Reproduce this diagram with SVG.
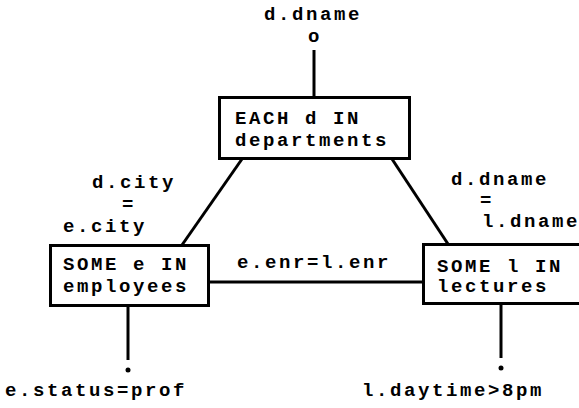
<svg xmlns="http://www.w3.org/2000/svg" width="579" height="408" viewBox="0 0 579 408">
<style>
text{font-family:"Liberation Mono","DejaVu Sans Mono",monospace;font-weight:bold;font-size:19px;letter-spacing:2.6px;fill:#000}
.box{fill:#fff;stroke:#000;stroke-width:3}
.edge{stroke:#000;stroke-width:3;fill:none}
</style>
<rect width="579" height="408" fill="#fff"/>
<g id="connectors">
<line class="edge" x1="314" y1="50" x2="314" y2="97"/>
<line class="edge" x1="242" y1="159" x2="182" y2="245"/>
<line class="edge" x1="392" y1="159" x2="448" y2="244"/>
<line class="edge" x1="209" y1="282" x2="423" y2="282"/>
<line class="edge" x1="128" y1="306" x2="128" y2="360"/>
<line class="edge" x1="501" y1="304" x2="501" y2="358"/>
<circle cx="128" cy="370" r="2.5" fill="#000"/>
<circle cx="501" cy="368" r="2.5" fill="#000"/>
<text x="237" y="268">e.enr=l.enr</text>
<text x="92" y="188">d.city</text>
<text x="122" y="210">=</text>
<text x="63" y="232">e.city</text>
<text x="451" y="185">d.dname</text>
<text x="480" y="206">=</text>
<text x="482" y="227">l.dname</text>
</g>
<g id="output">
<text x="264" y="20">d.dname</text>
<text x="308" y="42">o</text>
</g>
<g id="departments">
<rect class="box" x="219.5" y="97.5" width="190" height="61"/>
<text x="235" y="124">EACH d IN</text>
<text x="235" y="146">departments</text>
</g>
<g id="employees">
<rect class="box" x="50.5" y="245.5" width="158" height="60"/>
<text x="63" y="270">SOME e IN</text>
<text x="63" y="292">employees</text>
</g>
<g id="lectures">
<rect class="box" x="423.5" y="244.5" width="170" height="59"/>
<text x="437" y="272">SOME l IN</text>
<text x="437" y="292">lectures</text>
</g>
<g id="conditions">
<text x="5" y="396">e.status=prof</text>
<text x="362" y="396">l.daytime&gt;8pm</text>
</g>
</svg>
